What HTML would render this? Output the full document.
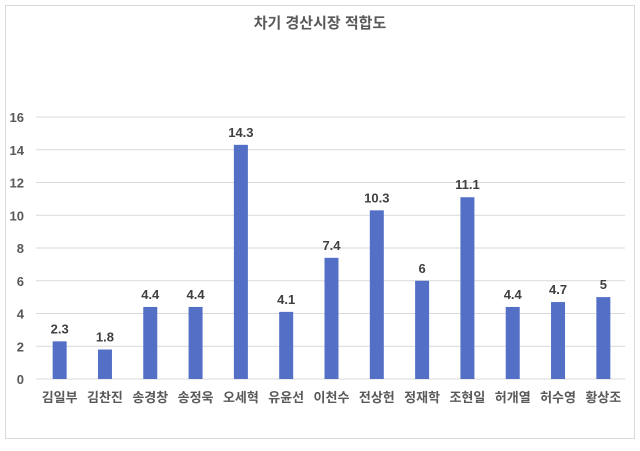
<!DOCTYPE html>
<html><head><meta charset="utf-8"><style>
body{margin:0;background:#fff;}
svg text{font-family:"Liberation Sans","Noto Sans CJK KR",sans-serif;}
</style></head><body>
<svg width="640" height="446">
<rect x="5.5" y="5.5" width="629" height="433" fill="#fff" stroke="#d9d9d9"/>
<text x="320" y="28" text-anchor="middle" font-size="15" font-weight="bold" fill="#595959">차기 경산시장 적합도</text>
<g id="grid"></g><g id="bars"></g><g id="labels"></g>
</svg>
<script>
const categories=["김일부","김찬진","송경창","송정욱","오세혁","유윤선","이천수","전상헌","정재학","조현일","허개열","허수영","황상조"];
const values=[2.3,1.8,4.4,4.4,14.3,4.1,7.4,10.3,6,11.1,4.4,4.7,5];
const ticks=[0,2,4,6,8,10,12,14,16];
const ns="http://www.w3.org/2000/svg";
const x0=36,x1=625,y0=379,yTop=117,maxV=16;
const band=(x1-x0)/categories.length;
const y=v=>y0-(v/maxV)*(y0-yTop);
const xc=i=>x0+band*(i+0.5)+1;
function mk(tag,attrs,parent,text){const e=document.createElementNS(ns,tag);for(const k in attrs)e.setAttribute(k,attrs[k]);if(text!==undefined)e.textContent=text;parent.appendChild(e);return e;}
const G=document.getElementById('grid'),B=document.getElementById('bars'),L=document.getElementById('labels');
ticks.forEach(t=>{
 const l=mk('line',{x1:x0,x2:x1,y1:y(t),y2:y(t),stroke:'#d9d9d9','stroke-width':1},G);
 
 
 const tx=mk('text',{x:24,y:y(t)+5,'text-anchor':'end','font-size':13,'font-weight':'bold',fill:'#595959'},G,String(t));
 
 
});
categories.forEach((c,i)=>{
 const v=values[i];
 const r=mk('rect',{x:xc(i)-7,y:y(v),width:14,height:y0-y(v),fill:'#5470c6'},B);
 
 
 const t=mk('text',{x:xc(i),y:y(v)-8,'text-anchor':'middle','font-size':13,'font-weight':'bold',fill:'#404040'},L,String(v));
 
 
 const a=mk('text',{x:xc(i),y:402,'text-anchor':'middle','font-size':13,'font-weight':'bold',fill:'#595959'},L,c);
 
 
});
</script>
</body></html>
